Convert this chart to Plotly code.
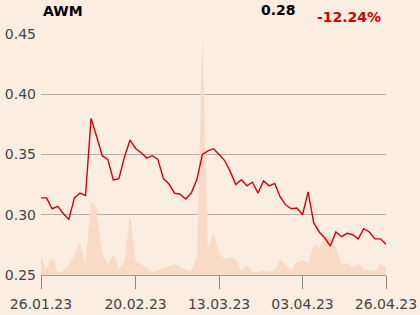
import pandas as pd
import plotly.graph_objects as go

# Trading days (Warsaw), Good Friday and Easter Monday closed
holidays = ["2023-04-07", "2023-04-10"]
dates = [d for d in pd.bdate_range("2023-01-26", "2023-04-26").strftime("%Y-%m-%d") if d not in holidays]

price = [0.314, 0.314, 0.305, 0.307, 0.301, 0.296, 0.314, 0.318, 0.316, 0.380,
         0.365, 0.349, 0.346, 0.329, 0.330, 0.348, 0.362, 0.355, 0.3515, 0.347,
         0.349, 0.346, 0.330, 0.3255, 0.318, 0.317, 0.313, 0.318, 0.329, 0.350,
         0.353, 0.3548, 0.350, 0.345, 0.336, 0.325, 0.329, 0.324, 0.327, 0.318,
         0.328, 0.324, 0.326, 0.3145, 0.308, 0.305, 0.3056, 0.300, 0.319, 0.2934,
         0.2857, 0.2807, 0.274, 0.2857, 0.2818, 0.2846, 0.2834, 0.280, 0.2884, 0.2857,
         0.280, 0.280, 0.2756]

volume = [18, 6, 18, 3, 4, 10, 20, 32, 12, 74,
          66, 22, 10, 21, 7, 13, 60, 14, 11, 7,
          3, 5, 7, 9, 11, 8, 6, 4, 18, 237,
          27, 42, 22, 16, 18, 16, 3, 10, 3, 3,
          5, 3, 5, 15, 10, 6, 13, 15, 11, 30,
          27, 38, 39, 27, 11, 12, 8, 11, 6, 5,
          4, 11, 8]

tick_dates = ["2023-01-26", "2023-02-20", "2023-03-13", "2023-04-03", "2023-04-26"]
tick_labels = ["26.01.23", "20.02.23", "13.03.23", "03.04.23", "26.04.23"]
y_ticks = [0.25, 0.30, 0.35, 0.40, 0.45]
y_labels = ["0.25", "0.30", "0.35", "0.40", "0.45"]

title = "AWM"
last_label = "0.28"
change_label = "-12.24%"

bg = "#fcede1"
font = "DejaVu Sans"

fig = go.Figure()
# volume on base axis (drawn underneath)
fig.add_trace(go.Scatter(x=dates, y=volume, yaxis="y", mode="lines",
                         line=dict(width=0, color="rgba(0,0,0,0)"),
                         fill="tozeroy", fillcolor="#f9dbc5", hoverinfo="skip"))
# price on overlaying axis (drawn on top)
fig.add_trace(go.Scatter(x=dates, y=price, yaxis="y2", mode="lines",
                         line=dict(color="#d4000f", width=1.4)))

fig.update_layout(
    width=420, height=315,
    margin=dict(l=41, r=34, t=34, b=40, autoexpand=False),
    paper_bgcolor=bg, plot_bgcolor=bg,
    showlegend=False,
    font=dict(family=font, size=14, color="#444444"),
    xaxis=dict(type="category", range=[0, len(dates) - 1],
               tickvals=tick_dates, ticktext=tick_labels,
               showgrid=False, zeroline=False, automargin=False,
               showline=True, linecolor="#999999", linewidth=1,
               ticks="outside", ticklen=13, tickcolor="#888888",
               ticklabelstandoff=3,
               tickfont=dict(size=14, color="#444444")),
    yaxis=dict(range=[0, 241], visible=False, showgrid=False, zeroline=False),
    yaxis2=dict(overlaying="y", side="left", range=[0.25, 0.45],
                tickvals=y_ticks, ticktext=y_labels,
                showgrid=True, gridcolor="#b5b0ab", gridwidth=1,
                zeroline=False, ticks="", automargin=False,
                ticklabelstandoff=4,
                tickfont=dict(size=14, color="#444444")),
    annotations=[
        dict(text="<b>%s</b>" % title, xref="paper", yref="paper", x=0, y=1.095,
             xanchor="left", yanchor="middle", showarrow=False,
             font=dict(family=font, size=14, color="#000000")),
        dict(text="<b>%s</b>" % last_label, xref="paper", yref="paper", x=0.745, y=1.1,
             xanchor="right", yanchor="middle", showarrow=False,
             font=dict(family=font, size=14, color="#000000")),
        dict(text="<b>%s</b>" % change_label, xref="paper", yref="paper", x=0.991, y=1.071,
             xanchor="right", yanchor="middle", showarrow=False,
             font=dict(family=font, size=14, color="#d40000")),
    ],
)

fig.write_html("out.html")
